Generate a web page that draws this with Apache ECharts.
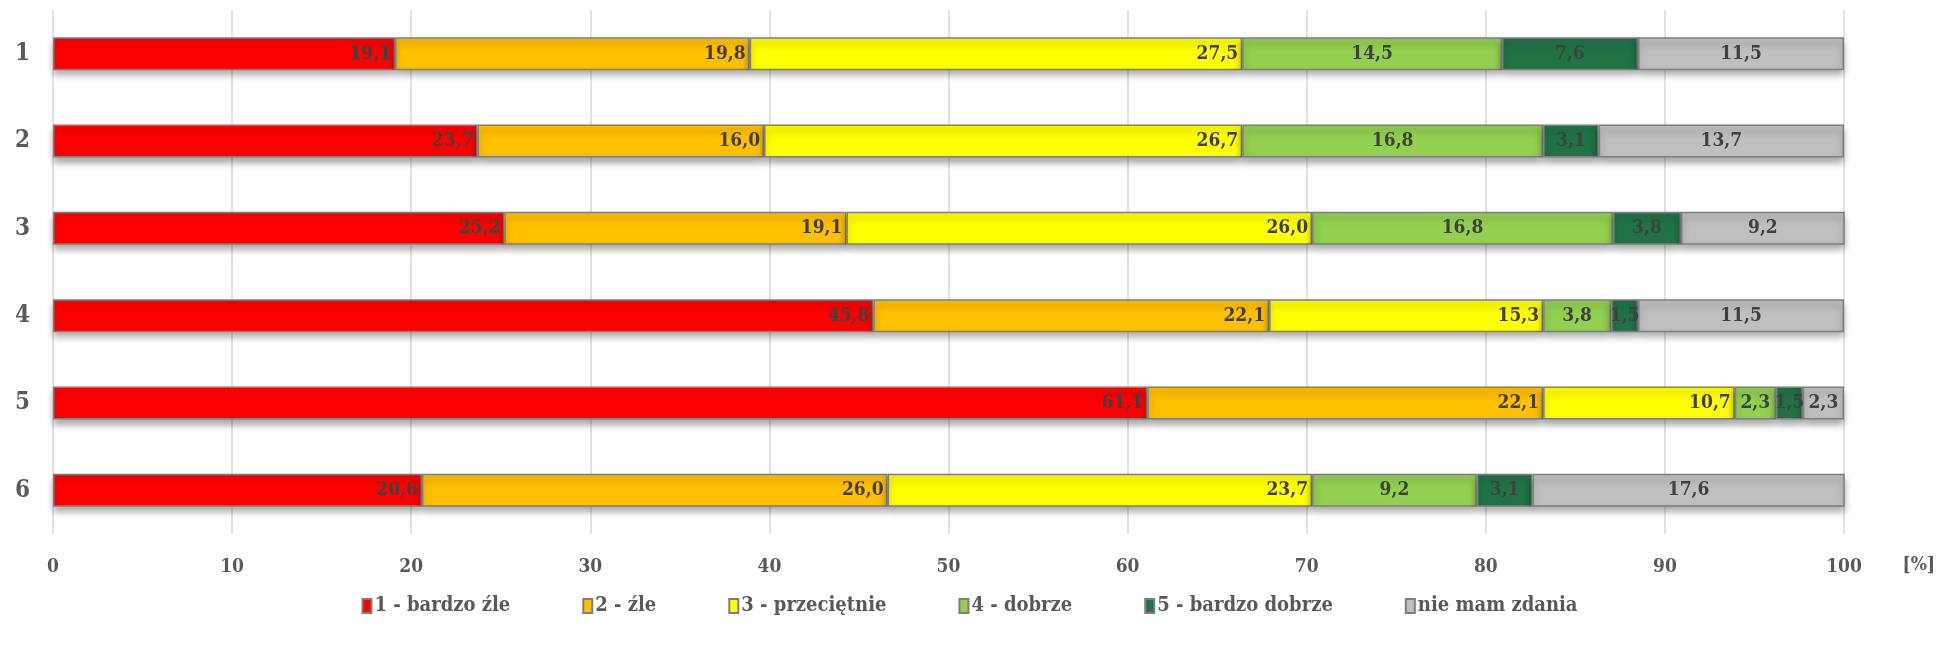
<!DOCTYPE html>
<html>
<head>
<meta charset="utf-8">
<script src="https://cdn.jsdelivr.net/npm/echarts@6/dist/echarts.min.js"></script>
<style>
html,body{margin:0;padding:0;background:#fff;}
#chart{width:1939px;height:651px;}
</style>
</head>
<body>
<div id="chart"></div>
<script>
var categories = ['1', '2', '3', '4', '5', '6'];
var seriesNames = ['1 - bardzo źle', '2 - źle', '3 - przeciętnie', '4 - dobrze', '5 - bardzo dobrze', 'nie mam zdania'];
var bardzoZle = [19.1, 23.7, 25.2, 45.8, 61.1, 20.6];
var zle = [19.8, 16.0, 19.1, 22.1, 22.1, 26.0];
var przecietnie = [27.5, 26.7, 26.0, 15.3, 10.7, 23.7];
var dobrze = [14.5, 16.8, 16.8, 3.8, 2.3, 9.2];
var bardzoDobrze = [7.6, 3.1, 3.8, 1.5, 1.5, 3.1];
var nieMamZdania = [11.5, 13.7, 9.2, 11.5, 2.3, 17.6];
var xTicks = [0, 10, 20, 30, 40, 50, 60, 70, 80, 90, 100];

var allData = [bardzoZle, zle, przecietnie, dobrze, bardzoDobrze, nieMamZdania];
var colors = ['#FF0000', '#FFC000', '#FFFF00', '#92D050', '#217346', '#BFBFBF'];
var labelPos = ['insideRight', 'insideRight', 'insideRight', 'inside', 'inside', 'inside'];
var FONT = '"DejaVu Serif Condensed", "DejaVu Serif", serif';

var chart = echarts.init(document.getElementById('chart'));
var series = allData.map(function (d, i) {
  return {
    name: seriesNames[i],
    type: 'bar',
    stack: 'total',
    data: d,
    barWidth: 33,
    itemStyle: {
      color: colors[i],
      borderColor: '#7F7F7F',
      borderWidth: 1.5,
      shadowBlur: 7,
      shadowOffsetY: 5,
      shadowColor: 'rgba(0,0,0,0.35)'
    },
    label: {
      show: true,
      position: labelPos[i],
      distance: 4,
      color: '#404040',
      fontFamily: FONT,
      fontWeight: 'bold',
      fontSize: 19,
      formatter: function (p) { return p.value.toFixed(1).replace('.', ','); }
    },
    emphasis: { disabled: true }
  };
});

chart.setOption({
  animation: false,
  textStyle: { fontFamily: FONT },
  grid: { left: 53, right: 95, top: 10, bottom: 117, containLabel: false },
  xAxis: {
    type: 'value',
    min: 0,
    max: 100,
    interval: 10,
    axisLine: { show: false },
    axisTick: { show: false },
    splitLine: { show: true, lineStyle: { color: '#D9D9D9', width: 1.5 } },
    axisLabel: {
      margin: 24,
      color: '#595959',
      fontFamily: FONT,
      fontWeight: 'bold',
      fontSize: 19,
      formatter: function (v) { return xTicks.indexOf(v) >= 0 ? String(v) : ''; }
    }
  },
  yAxis: {
    type: 'category',
    data: categories,
    inverse: true,
    axisLine: { show: false },
    axisTick: { show: false },
    axisLabel: {
      margin: 23,
      color: '#595959',
      fontFamily: FONT,
      fontWeight: 'bold',
      fontSize: 24
    }
  },
  legend: {
    bottom: 30,
    left: 'center',
    itemGap: 72,
    itemWidth: 9,
    itemHeight: 14,
    icon: 'rect',
    textStyle: {
      color: '#595959',
      fontFamily: FONT,
      fontWeight: 'bold',
      fontSize: 20,
      padding: [0, 0, 0, -2]
    },
    data: seriesNames
  },
  graphic: [{
    type: 'text',
    right: 4,
    top: 556,
    style: {
      text: '[%]',
      fill: '#595959',
      font: 'bold 19px ' + FONT
    }
  }],
  series: series
});
</script>
</body>
</html>
